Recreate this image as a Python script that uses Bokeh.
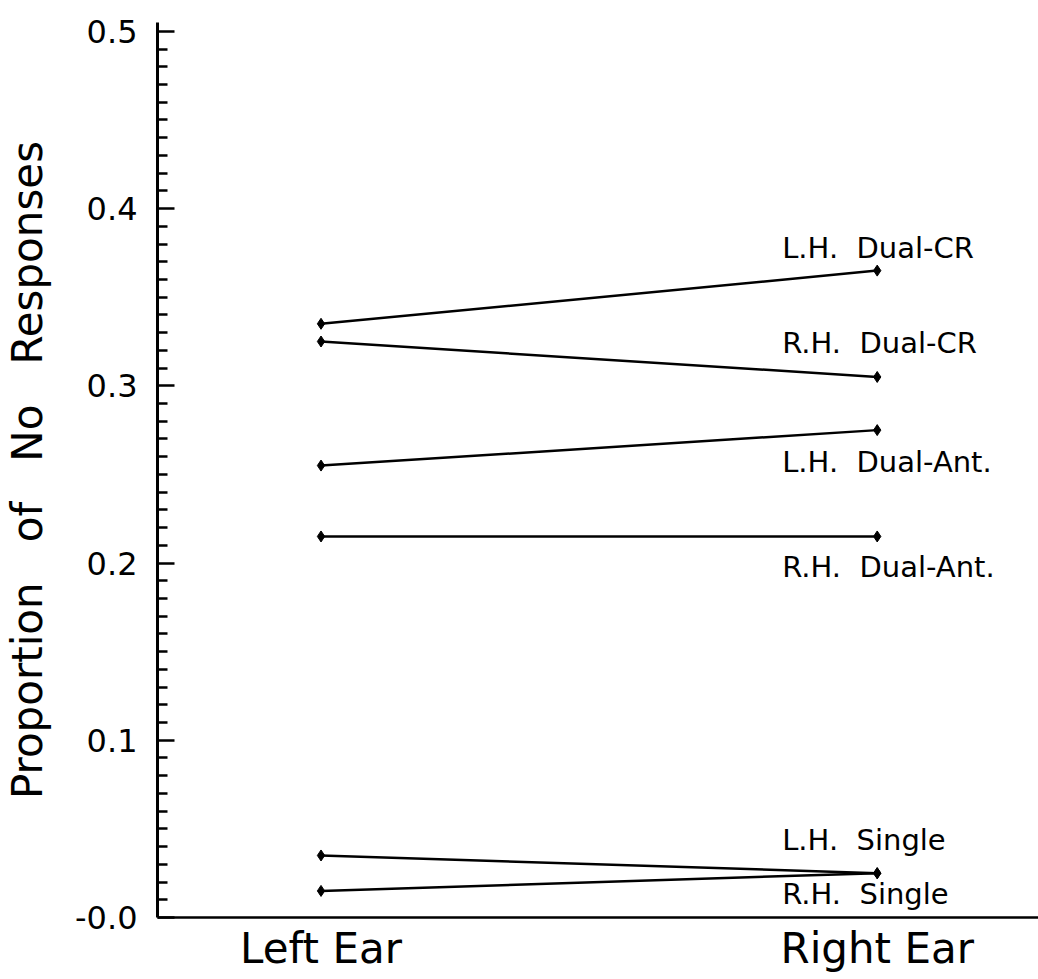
from bokeh.plotting import figure
from bokeh.models import Range1d, FixedTicker, ColumnDataSource
from bokeh.core.properties import value
from bokeh.embed import file_html
from bokeh.resources import INLINE

# ---- data ----
conditions = ["Left Ear", "Right Ear"]
series = ["L.H.\u00a0 Dual-CR", "R.H.\u00a0 Dual-CR", "L.H.\u00a0 Dual-Ant.",
          "R.H.\u00a0 Dual-Ant.", "L.H.\u00a0 Single", "R.H.\u00a0 Single"]
left_ear = [0.335, 0.325, 0.255, 0.215, 0.035, 0.015]
right_ear = [0.365, 0.305, 0.275, 0.215, 0.025, 0.025]
y_ticks = [0.0, 0.1, 0.2, 0.3, 0.4, 0.5]
y_tick_labels = ["-0.0", "0.1", "0.2", "0.3", "0.4", "0.5"]

# ---- styling ----
label_dy = [-23, -34, 32, 31, -33, 21]
FONT = "DejaVu Sans"
GAP = "\u00a0\u00a0 "

x_pos = [1, 2]

p = figure(width=1038, height=975, output_backend="svg", toolbar_location=None,
           x_range=Range1d(0.706, 2.29), y_range=Range1d(0, 0.505),
           min_border_left=157, min_border_right=0, min_border_top=22, min_border_bottom=54)
p.outline_line_color = None
p.grid.visible = False
p.background_fill_color = "white"
p.border_fill_color = "white"

for l, r in zip(left_ear, right_ear):
    p.line(x_pos, [l, r], line_color="black", line_width=2.5)
    p.scatter(x_pos, [l, r], marker="diamond", size=11, fill_color="black", line_color="black")

src = ColumnDataSource(dict(x=[x_pos[1]] * len(series), y=right_ear, text=series, dy=label_dy))
p.text(x="x", y="y", text="text", source=src, x_offset=-95, y_offset="dy",
       text_font=value(FONT), text_font_size="29px", text_baseline="middle",
       text_align="left", text_color="black")

# y axis
ya = p.yaxis[0]
minor = [round(i * 0.01, 2) for i in range(0, 51) if i % 10 != 0]
ya.ticker = FixedTicker(ticks=y_ticks, minor_ticks=minor)
ya.major_label_overrides = {t: s for t, s in zip(y_ticks, y_tick_labels)}
ya.major_tick_in = 17
ya.major_tick_out = 0
ya.minor_tick_in = 10
ya.minor_tick_out = 0
ya.major_tick_line_width = 2.5
ya.minor_tick_line_width = 2.5
ya.axis_line_width = 3
ya.major_label_standoff = 20
ya.major_label_text_font = FONT
ya.major_label_text_font_size = "32px"
ya.major_label_text_color = "black"
ya.axis_label = GAP.join(["Proportion", "of", "No", "Responses"])
ya.axis_label_text_font = FONT
ya.axis_label_text_font_size = "42px"
ya.axis_label_text_font_style = "normal"
ya.axis_label_text_color = "black"
ya.axis_label_standoff = 20

# x axis
xa = p.xaxis[0]
xa.ticker = FixedTicker(ticks=x_pos)
xa.major_label_overrides = {t: s for t, s in zip(x_pos, conditions)}
xa.major_tick_line_color = None
xa.minor_tick_line_color = None
xa.major_tick_in = 0
xa.major_tick_out = 0
xa.major_label_standoff = 6
xa.major_label_text_font = FONT
xa.major_label_text_font_size = "42px"
xa.major_label_text_color = "black"
xa.axis_line_width = 2.5

open("out.html", "w").write(file_html(p, INLINE))
